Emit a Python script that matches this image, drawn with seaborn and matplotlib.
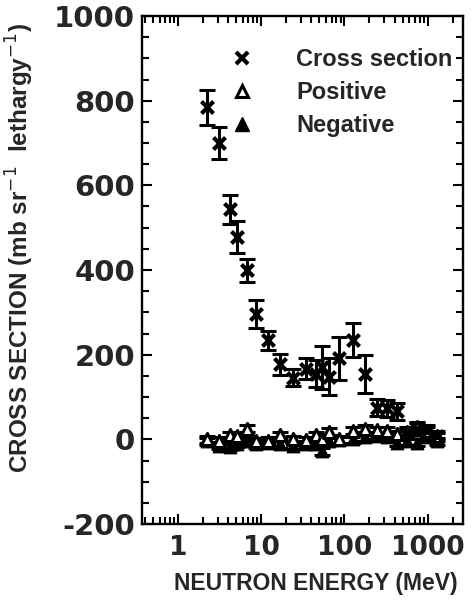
import matplotlib
matplotlib.use("Agg")
import numpy as np
import pandas as pd
import matplotlib.pyplot as plt
import seaborn as sns
from matplotlib.ticker import FixedLocator, MultipleLocator, NullFormatter, FixedFormatter
from matplotlib.lines import Line2D

# ---- data ----
energy = [2.23, 3.11, 4.22, 5.12, 6.75, 8.66, 12.1, 16.8, 24.1, 34.5, 45.6, 53.8,
          65.3, 86.1, 127, 177, 247, 325, 429, 565, 746, 984, 1297]
cross = [784, 700, 543, 478, 399, 296, 234, 177, 145, 167, 155, 170,
         148, 191, 234, 155, 75, 73, 66, 15, 25, 20, 8]
cross_err = [42, 38, 35, 37, 28, 32, 23, 24, 20, 25, 32, 50,
             43, 50, 40, 45, 20, 20, 20, 15, 15, 15, 12]
positive = [0, -3, 10, 8, 25, -5, -3, 10, 0, -2, 10, 0,
            18, 0, 20, 25, 22, 20, 12, 18, 30, 20, 8]
negative = [-5, -15, -18, -10, -5, -12, -8, -12, -15, -12, -10, -28,
            -5, -2, 0, 5, 8, 5, -8, -5, -8, 5, -5]
tri_err = [8] * len(energy)

x_ticks = [1, 10, 100, 1000]
x_ticklabels = ["1", "10", "100", "1000"]
y_ticks = [-200, 0, 200, 400, 600, 800, 1000]
y_ticklabels = ["-200", "0", "200", "400", "600", "800", "1000"]
legend_labels = ["Cross section", "Positive", "Negative"]

df = pd.DataFrame({"energy": energy, "cross": cross, "cross_err": cross_err,
                   "positive": positive, "negative": negative, "tri_err": tri_err})

sns.set_style("ticks")
plt.rcParams["font.family"] = ["Liberation Sans", "DejaVu Sans"]

W, H = 472, 601
fig = plt.figure(figsize=(W / 100, H / 100), dpi=100)
ax = fig.add_axes([142 / W, 1 - 524 / H, (463 - 142) / W, (524 - 16) / H])

ax.set_xscale("log")
ax.set_xlim(0.369, 2663)
ax.set_ylim(-200, 1000)

ekw = dict(fmt="none", ecolor="black", elinewidth=2.2, capsize=5.5, capthick=2.2, zorder=2)
ax.errorbar(df["energy"], df["cross"], yerr=df["cross_err"], **ekw)
ax.errorbar(df["energy"], df["positive"], yerr=df["tri_err"], **ekw)
ax.errorbar(df["energy"], df["negative"], yerr=df["tri_err"], **ekw)

sns.scatterplot(data=df, x="energy", y="negative", marker="^", s=80, color="black",
                edgecolor="black", linewidth=1.0, ax=ax, zorder=3, legend=False)
sns.scatterplot(data=df, x="energy", y="positive", marker="^", s=75, color="white",
                edgecolor="black", linewidth=2.2, ax=ax, zorder=4, legend=False)
sns.scatterplot(data=df, x="energy", y="cross", marker="x", s=75, color="black",
                linewidth=3.0, ax=ax, zorder=5, legend=False)

# ticks
ax.xaxis.set_major_locator(FixedLocator(x_ticks))
ax.xaxis.set_major_formatter(FixedFormatter(x_ticklabels))
minors = [m * 10.0 ** d for d in range(-1, 4) for m in range(2, 10)]
ax.xaxis.set_minor_locator(FixedLocator(minors))
ax.xaxis.set_minor_formatter(NullFormatter())
ax.yaxis.set_major_locator(FixedLocator(y_ticks))
ax.yaxis.set_major_formatter(FixedFormatter(y_ticklabels))
ax.yaxis.set_minor_locator(MultipleLocator(50))

ax.tick_params(which="both", direction="in", top=True, right=True, color="black", width=1.5)
ax.tick_params(which="major", length=7)
ax.tick_params(which="minor", length=5)
ax.tick_params(axis="x", which="major", pad=8)
ax.tick_params(axis="y", which="major", pad=5)
for lab in ax.get_xticklabels():
    lab.set_fontfamily(["DejaVu Sans"])
    lab.set_fontweight("bold")
    lab.set_fontsize(19)
for lab in ax.get_yticklabels():
    lab.set_fontfamily(["DejaVu Sans"])
    lab.set_fontweight("bold")
    lab.set_fontsize(21)
for sp in ax.spines.values():
    sp.set_linewidth(1.7)
    sp.set_color("black")

ax.set_xlabel("NEUTRON ENERGY (MeV)", fontsize=16.5, fontweight="bold")
ax.xaxis.set_label_coords((316 - 142) / 321, (524 - 572) / 508)
ax.set_ylabel("CROSS SECTION (mb sr$^{-1}$  lethargy$^{-1}$)", fontsize=17.5,
              fontweight="bold")
ax.yaxis.set_label_coords((36 - 142) / 321, (524 - 248) / 508)

handles = [
    Line2D([], [], linestyle="none", marker="x", markersize=9, markeredgewidth=3.0, color="black"),
    Line2D([], [], linestyle="none", marker="^", markersize=8.5, markerfacecolor="white",
           markeredgecolor="black", markeredgewidth=2.2),
    Line2D([], [], linestyle="none", marker="^", markersize=9.5, markerfacecolor="black",
           markeredgecolor="black"),
]
leg = ax.legend(handles, legend_labels, loc="upper left", frameon=False,
                bbox_to_anchor=(218 / W, 1 - 48 / H), bbox_transform=fig.transFigure,
                borderpad=0, borderaxespad=0, handlelength=2.0, handletextpad=1.3,
                labelspacing=0.42, prop={"size": 17, "weight": "bold"})

fig.savefig("out.png", dpi=100, facecolor="white")
